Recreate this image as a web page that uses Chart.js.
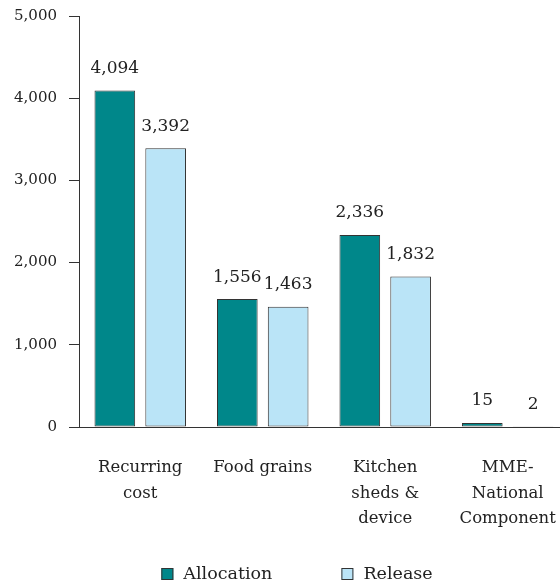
<!DOCTYPE html>
<html>
<head>
<meta charset="utf-8">
<script src="https://cdn.jsdelivr.net/npm/chart.js@4.4.1/dist/chart.umd.min.js"></script>
<style>
  html, body { margin: 0; padding: 0; background: #fff; overflow: hidden; }
  #wrap { position: relative; width: 576px; height: 585px; }
</style>
</head>
<body>
<div id="wrap"><canvas id="budgetChart"></canvas></div>
<script>
// chart data
const categories = [["Recurring", "cost"], "Food grains", ["Kitchen", "sheds &", "device"], ["MME-", "National", "Component"]];
const allocation = [4094, 1556, 2336, 15];
const release = [3392, 1463, 1832, 2];
const yTicks = [0, 1000, 2000, 3000, 4000, 5000];
const seriesNames = ["Allocation", "Release"];

const FONT = "'DejaVu Serif', 'Liberation Serif', serif";
const TEXT = "#222";
const AXIS = "#333";
const colors = ["#00878A", "#BAE4F7"];

// numbers over the bars
const valueLabels = {
  id: "valueLabels",
  afterDatasetsDraw(chart) {
    const ctx = chart.ctx;
    ctx.save();
    ctx.font = "17px " + FONT;
    ctx.fillStyle = TEXT;
    ctx.textAlign = "center";
    ctx.textBaseline = "middle";
    chart.data.datasets.forEach((ds, i) => {
      chart.getDatasetMeta(i).data.forEach((bar, j) => {
        ctx.fillText(ds.data[j].toLocaleString("en-US"), bar.x, bar.y - 22);
      });
    });
    ctx.restore();
  }
};

// legend at the bottom, drawn by hand so the gap between items can be wide
const bottomLegend = {
  id: "bottomLegend",
  afterDraw(chart) {
    const ctx = chart.ctx;
    const box = 12, boxGap = 10, itemGap = 69;
    ctx.save();
    ctx.font = "17.5px " + FONT;
    const widths = chart.data.datasets.map(ds => box + boxGap + ctx.measureText(ds.label).width);
    const total = widths.reduce((a, b) => a + b, 0) + itemGap * (widths.length - 1);
    let x = 297 - total / 2;
    const y = chart.height - 11;
    chart.data.datasets.forEach((ds, i) => {
      ctx.fillStyle = ds.backgroundColor;
      ctx.fillRect(x, y - box / 2, box, box);
      ctx.strokeStyle = AXIS;
      ctx.lineWidth = 1;
      ctx.strokeRect(x + 0.5, y - box / 2 + 0.5, box - 1, box - 1);
      ctx.fillStyle = TEXT;
      ctx.textBaseline = "middle";
      ctx.fillText(ds.label, x + box + boxGap, y);
      x += widths[i] + itemGap;
    });
    ctx.restore();
  }
};

const ctx = document.getElementById("budgetChart").getContext("2d");
const budgetChart = new Chart(ctx, {
  type: "bar",
  data: {
    labels: categories,
    datasets: [
      {
        label: seriesNames[0],
        data: allocation,
        backgroundColor: colors[0],
        borderColor: "#333",
        borderWidth: 1,
        borderSkipped: false,
        minBarLength: 4,
        categoryPercentage: 0.83,
        barPercentage: 0.8,
      },
      {
        label: seriesNames[1],
        data: release,
        backgroundColor: colors[1],
        borderColor: "#333",
        borderWidth: 1,
        borderSkipped: false,
        categoryPercentage: 0.83,
        barPercentage: 0.8,
      },
    ],
  },
  options: {
    responsive: true,
    maintainAspectRatio: false,
    animation: false,
    layout: { padding: { top: 16, right: 1, left: 0, bottom: 0 } },
    plugins: {
      legend: { display: false },
      tooltip: { enabled: false },
    },
    scales: {
      x: {
        grid: { display: false },
        border: { display: true, color: AXIS, width: 1 },
        ticks: {
          color: TEXT,
          font: { family: FONT, size: 16.5, lineHeight: 1.55 },
          padding: 20,
          maxRotation: 0,
          autoSkip: false,
        },
        afterFit(scale) { scale.height = 158; },
      },
      y: {
        min: 0,
        max: 5000,
        afterBuildTicks(scale) { scale.ticks = yTicks.map(v => ({ value: v })); },
        grid: { drawOnChartArea: false, drawTicks: true, tickLength: 10, color: AXIS },
        border: { display: true, color: AXIS, width: 1 },
        ticks: {
          color: TEXT,
          font: { family: FONT, size: 15 },
          padding: 12,
          callback: v => v.toLocaleString("en-US"),
        },
        afterFit(scale) {
          scale.width = 79;
          scale.paddingTop = 0;
          scale.paddingBottom = 0;
        },
      },
    },
  },
  plugins: [valueLabels, bottomLegend],
});
</script>
</body>
</html>
